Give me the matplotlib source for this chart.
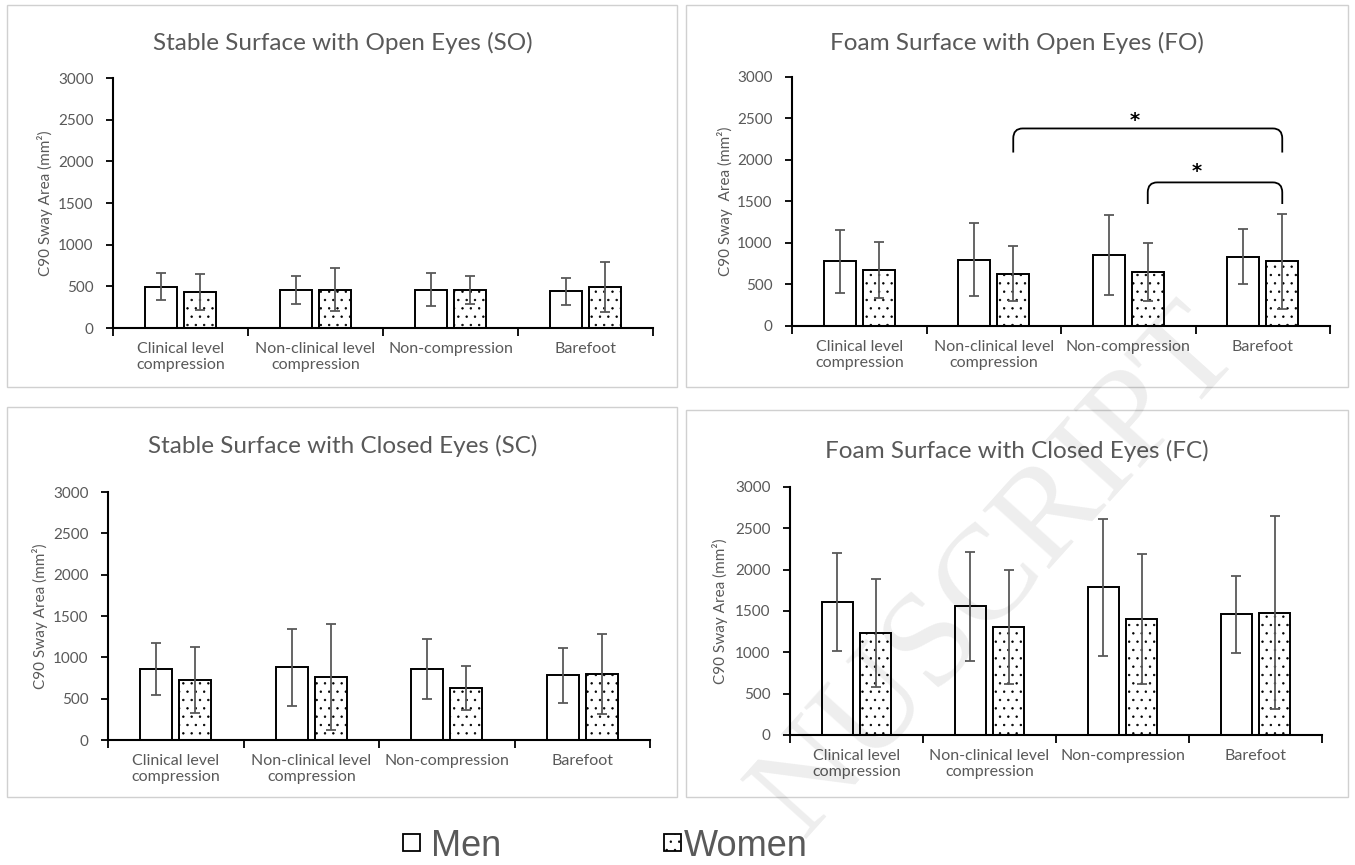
import matplotlib
matplotlib.use("Agg")
import matplotlib.pyplot as plt
import numpy as np
from matplotlib.patches import Rectangle
from matplotlib.path import Path
from matplotlib.patches import PathPatch

categories = ["Clinical level\ncompression", "Non-clinical level\ncompression",
              "Non-compression", "Barefoot"]

so_men = [495, 460, 460, 440]
so_men_sd = [160, 170, 200, 160]
so_women = [428, 460, 460, 495]
so_women_sd = [215, 260, 170, 300]

fo_men = [780, 800, 856, 836]
fo_men_sd = [380, 435, 480, 335]
fo_women = [672, 628, 648, 780]
fo_women_sd = [340, 330, 350, 570]

sc_men = [859, 879, 859, 782]
sc_men_sd = [315, 465, 365, 335]
sc_women = [726, 762, 629, 802]
sc_women_sd = [400, 640, 270, 485]

fc_men = [1612, 1556, 1785, 1460]
fc_men_sd = [590, 655, 825, 465]
fc_women = [1231, 1311, 1403, 1480]
fc_women_sd = [655, 690, 790, 1170]

W, H = 1355, 865
GRAY = "#595959"
FONT = "Lato"

plt.rcParams["hatch.linewidth"] = 0.5
plt.rcParams["hatch.color"] = "#222222"
fig = plt.figure(figsize=(W / 100, H / 100), dpi=100)
fig.patch.set_facecolor("white")


def box(l, t, r, b):
    return [l / W, 1 - b / H, (r - l) / W, (b - t) / H]


def panel(l, t, r, b):
    fig.patches.append(Rectangle((l / W, 1 - b / H), (r - l) / W, (b - t) / H,
                                 transform=fig.transFigure, facecolor="white",
                                 edgecolor="#d0d0d0", lw=1.0, zorder=-2))


def draw(ax_box, title, title_xy, men, men_sd, women, women_sd, ylab, ylab_x):
    ax = fig.add_axes(box(*ax_box))
    ax.set_facecolor("none")
    x = np.arange(len(categories)) + 0.5
    w = 0.235
    off = 0.145
    ax.bar(x - off, men, w, color="white", edgecolor="black", lw=1.4, zorder=2)
    ax.bar(x + off, women, w, color="white", edgecolor="black", lw=1.4,
           hatch="..", zorder=2)
    ax.errorbar(x - off, men, yerr=men_sd, fmt="none", ecolor=GRAY, elinewidth=1.3,
                capsize=3.5, capthick=1.3, zorder=3)
    ax.errorbar(x + off, women, yerr=women_sd, fmt="none", ecolor=GRAY, elinewidth=1.3,
                capsize=3.5, capthick=1.3, zorder=3)
    ax.set_xlim(0, 4)
    ax.set_ylim(0, 3000)
    ax.set_yticks(np.arange(0, 3001, 500))
    ax.set_xticks(np.arange(0, 5))
    ax.set_xticklabels([])
    ax.set_xticks(x, minor=True)
    ax.set_xticklabels(categories, minor=True, fontsize=11.5, color=GRAY, family=FONT,
                       linespacing=1.2)
    ax.tick_params(axis="x", which="minor", length=0, pad=10)
    ax.tick_params(axis="x", which="major", length=6, width=1.3, direction="out")
    ax.tick_params(axis="y", length=5, width=1.3, direction="out", labelsize=11,
                   labelcolor=GRAY, pad=9)
    for lab in ax.get_yticklabels():
        lab.set_family(FONT)
    for s in ["top", "right"]:
        ax.spines[s].set_visible(False)
    for s in ["left", "bottom"]:
        ax.spines[s].set_linewidth(1.5)
    fig.text(ylab_x / W, 1 - (ax_box[1] + ax_box[3]) / 2 / H, ylab, rotation=90,
             ha="center", va="center", fontsize=11, color=GRAY, family=FONT)
    fig.text(title_xy[0] / W, 1 - title_xy[1] / H, title, ha="center", va="center",
             fontsize=17.5, color=GRAY, family=FONT)
    return ax


def bracket(ax, x1, x2, ytop, ybot, star_x, star_y):
    rx, ry = 0.07, 120
    verts = [(x1, ybot), (x1, ytop - ry), (x1, ytop), (x1 + rx, ytop),
             (x2 - rx, ytop), (x2, ytop), (x2, ytop - ry), (x2, ybot)]
    codes = [Path.MOVETO, Path.LINETO, Path.CURVE3, Path.CURVE3,
             Path.LINETO, Path.CURVE3, Path.CURVE3, Path.LINETO]
    ax.add_patch(PathPatch(Path(verts, codes), facecolor="none", edgecolor="black",
                           lw=1.3, zorder=4, clip_on=False))
    ax.text(star_x, star_y, "*", ha="center", va="center", fontsize=14,
            fontweight="bold", color="black")


panel(7, 5, 677, 387)
panel(686, 5, 1348, 387)
panel(7, 407, 677, 797)
panel(686, 410, 1348, 797)

draw((113, 78, 653, 328), "Stable Surface with Open Eyes (SO)", (343, 43),
     so_men, so_men_sd, so_women, so_women_sd, "C90 Sway Area (mm²)", 45)
ax_fo = draw((792, 77, 1330, 326), "Foam Surface with Open Eyes (FO)", (1017, 43),
             fo_men, fo_men_sd, fo_women, fo_women_sd, "C90 Sway  Area (mm²)", 725)
draw((108, 492, 650, 740), "Stable Surface with Closed Eyes (SC)", (343, 446),
     sc_men, sc_men_sd, sc_women, sc_women_sd, "C90 Sway Area (mm²)", 40)
draw((790, 487, 1322, 735), "Foam Surface with Closed Eyes (FC)", (1017, 451),
     fc_men, fc_men_sd, fc_women, fc_women_sd, "C90 Sway Area (mm²)", 720)

bracket(ax_fo, 1.645, 3.645, 2380, 2090, 2.55, 2480)
bracket(ax_fo, 2.645, 3.645, 1730, 1470, 3.01, 1860)

# legend
fig.patches.append(Rectangle((403 / W, 1 - 851 / H), 17 / W, 17 / H,
                             transform=fig.transFigure, facecolor="white",
                             edgecolor="black", lw=1.3))
fig.patches.append(Rectangle((664 / W, 1 - 851 / H), 17 / W, 17 / H,
                             transform=fig.transFigure, facecolor="white",
                             edgecolor="black", lw=1.3, hatch=".."))
fig.text(431 / W, 1 - 846 / H, "Men", fontsize=26, color=GRAY, va="center",
         family="Liberation Sans")
fig.text(684 / W, 1 - 846 / H, "Women", fontsize=26, color=GRAY, va="center",
         family="Liberation Sans")

# watermark
fig.text(1243 / W, 1 - 350 / H, "NUSCRIPT", rotation=48, rotation_mode="anchor",
         ha="right", va="baseline", fontsize=98, color="black", alpha=0.07,
         zorder=10, family="Liberation Serif")

fig.savefig("out.png", dpi=100)
